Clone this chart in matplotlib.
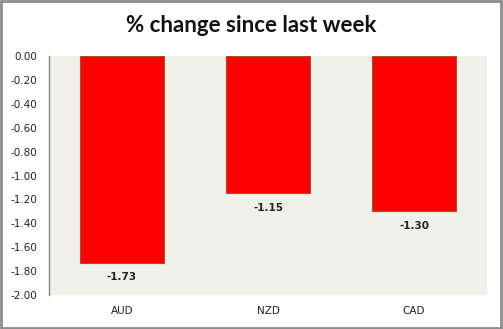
import numpy as np
import matplotlib
matplotlib.use("Agg")
import matplotlib.pyplot as plt
from matplotlib.patches import Rectangle

currencies = ["AUD", "NZD", "CAD"]
changes = [-1.73, -1.15, -1.30]
yticks = [0.00, -0.20, -0.40, -0.60, -0.80, -1.00, -1.20, -1.40, -1.60, -1.80, -2.00]

fig = plt.figure(figsize=(5.03, 3.29), dpi=100)
fig.patch.set_facecolor("white")
ax = fig.add_axes([49 / 503, 1 - 295 / 329, 438 / 503, 239 / 329])
ax.set_facecolor("#eff0e8")

x = np.arange(len(currencies))
ax.bar(x, changes, width=0.57, color="#ff0000", edgecolor="#a0522d", linewidth=0.8, zorder=2)

for xi, v in zip(x, changes):
    ax.annotate(f"{v:.2f}", (xi, v), xytext=(0, -10.5), textcoords="offset points",
                ha="center", va="center", fontsize=7.5, fontweight="bold",
                family="DejaVu Sans", color="#222222")

ax.set_xlim(-0.5, len(currencies) - 0.5)
ax.set_ylim(-2.0, 0.0)
ax.set_yticks(yticks)
ax.set_yticklabels([f"{t:.2f}" for t in yticks], fontsize=7.5, color="#222222")
ax.set_xticks(x)
ax.set_xticklabels(currencies, fontsize=7.5, color="#222222")
ax.tick_params(axis="both", length=0)
ax.tick_params(axis="y", pad=8.5)
ax.tick_params(axis="x", pad=8)

for side in ["top", "right", "bottom"]:
    ax.spines[side].set_visible(False)
ax.spines["left"].set_color("#888888")
ax.spines["left"].set_linewidth(1.0)

fig.text(0.5, 1 - 25 / 329, "% change since last week", ha="center", va="center",
         fontsize=16, fontweight="bold", family="Lato", color="#111111")

# outer frame
fig.patches.append(Rectangle((0.001, 0.002), 0.996, 0.995, transform=fig.transFigure,
                             fill=False, edgecolor="#8c8c8c", linewidth=2))

fig.savefig("out.png", dpi=100)
